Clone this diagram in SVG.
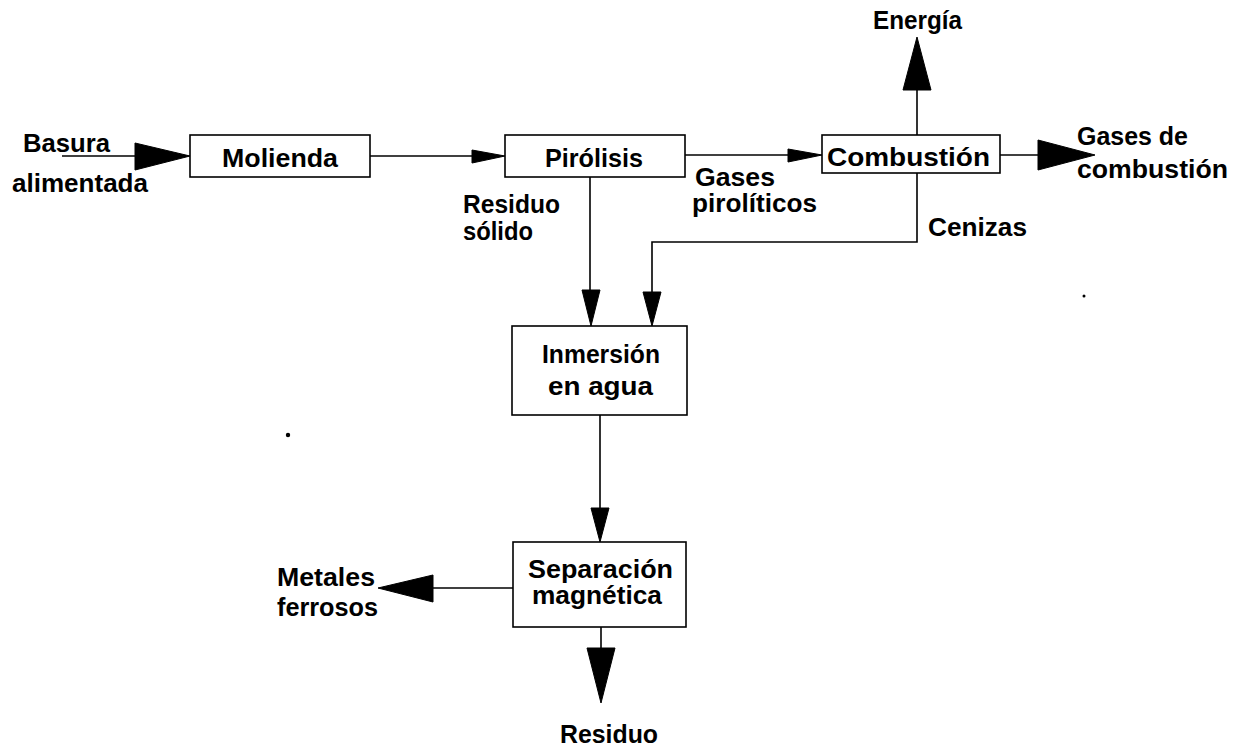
<svg xmlns="http://www.w3.org/2000/svg" width="1236" height="748" viewBox="0 0 1236 748">
<style>
.box{fill:#fff;stroke:#000;stroke-width:1.6}
.ln{fill:none;stroke:#000;stroke-width:1.6}
.ah{fill:#000;stroke:#000;stroke-width:1}
text{font-family:"Liberation Sans",Arial,sans-serif;font-size:25px;font-weight:bold;fill:#000}
</style>
<rect width="1236" height="748" fill="#fff"/>
<g id="connectors">
<line class="ln" x1="62" y1="156" x2="136" y2="156"/>
<polygon class="ah" points="135,143 190,156 135,170"/>
<line class="ln" x1="370" y1="156" x2="473" y2="156"/>
<polygon class="ah" points="472,150 505,156 472,163"/>
<line class="ln" x1="685" y1="155" x2="789" y2="155"/>
<polygon class="ah" points="788,149 822,155 788,162"/>
<line class="ln" x1="1000" y1="155" x2="1039" y2="155"/>
<polygon class="ah" points="1038,140 1095,155 1038,170"/>
<line class="ln" x1="917" y1="135" x2="917" y2="89"/>
<polygon class="ah" points="903,90 917,37 931,90"/>
<line class="ln" x1="590" y1="177" x2="590" y2="291"/>
<polygon class="ah" points="582,290 591,326 600,290"/>
<polyline class="ln" points="917,173 917,242 652,242 652,293"/>
<polygon class="ah" points="643,292 652,326 661,292"/>
<line class="ln" x1="600" y1="415" x2="600" y2="509"/>
<polygon class="ah" points="591,508 600,542 609,508"/>
<line class="ln" x1="513" y1="588" x2="432" y2="588"/>
<polygon class="ah" points="433,575 378,588 433,602"/>
<line class="ln" x1="601" y1="627" x2="601" y2="649"/>
<polygon class="ah" points="587,648 601,703 615,648"/>
</g>
<g id="molienda"><rect class="box" x="190" y="135" width="180" height="42"/><text x="222" y="167" textLength="116" lengthAdjust="spacingAndGlyphs">Molienda</text></g>
<g id="pirolisis"><rect class="box" x="505" y="135" width="180" height="42"/><text x="545" y="167" textLength="98" lengthAdjust="spacingAndGlyphs">Pirólisis</text></g>
<g id="combustion"><rect class="box" x="822" y="135" width="178" height="38"/><text x="827" y="166" textLength="163" lengthAdjust="spacingAndGlyphs">Combustión</text></g>
<g id="inmersion"><rect class="box" x="512" y="326" width="175" height="89"/><text x="542" y="363" textLength="118" lengthAdjust="spacingAndGlyphs">Inmersión</text><text x="548" y="395" textLength="105" lengthAdjust="spacingAndGlyphs">en agua</text></g>
<g id="separacion"><rect class="box" x="513" y="542" width="173" height="85"/><text x="528" y="578" textLength="145" lengthAdjust="spacingAndGlyphs">Separación</text><text x="532" y="604" textLength="130" lengthAdjust="spacingAndGlyphs">magnética</text></g>
<g id="labels">
<text x="23" y="152" textLength="87" lengthAdjust="spacingAndGlyphs">Basura</text>
<text x="12" y="192" textLength="136" lengthAdjust="spacingAndGlyphs">alimentada</text>
<text x="873" y="29" textLength="89" lengthAdjust="spacingAndGlyphs">Energía</text>
<text x="1077" y="145" textLength="111" lengthAdjust="spacingAndGlyphs">Gases de</text>
<text x="1077" y="178" textLength="151" lengthAdjust="spacingAndGlyphs">combustión</text>
<text x="695" y="186" textLength="80" lengthAdjust="spacingAndGlyphs">Gases</text>
<text x="692" y="212" textLength="125" lengthAdjust="spacingAndGlyphs">pirolíticos</text>
<text x="463" y="213" textLength="97" lengthAdjust="spacingAndGlyphs">Residuo</text>
<text x="463" y="240" textLength="70" lengthAdjust="spacingAndGlyphs">sólido</text>
<text x="928" y="236" textLength="99" lengthAdjust="spacingAndGlyphs">Cenizas</text>
<text x="277" y="586" textLength="98" lengthAdjust="spacingAndGlyphs">Metales</text>
<text x="277" y="616" textLength="101" lengthAdjust="spacingAndGlyphs">ferrosos</text>
<text x="560" y="743" textLength="98" lengthAdjust="spacingAndGlyphs">Residuo</text>
</g>
<circle cx="288" cy="435" r="2.2" fill="#000"/>
<circle cx="1084" cy="296" r="1.5" fill="#000"/>
</svg>
